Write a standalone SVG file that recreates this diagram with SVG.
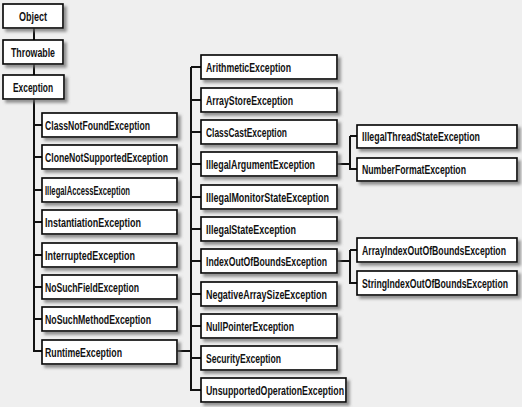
<svg xmlns="http://www.w3.org/2000/svg" width="522" height="407" viewBox="0 0 522 407">
<defs>
<filter id="sh" x="-10%" y="-30%" width="130%" height="180%">
<feDropShadow dx="3" dy="3" stdDeviation="1.6" flood-color="#666" flood-opacity="0.7"/>
</filter>
</defs>
<style>
.b{fill:#fff;stroke:#000;stroke-width:1.6;filter:url(#sh)}
.t{font-family:"Liberation Sans",Arial,sans-serif;font-weight:bold;font-size:12px;fill:#111}
.c{fill:none;stroke:#111;stroke-width:2}
</style>
<rect width="522" height="407" fill="#efefef"/>
<g id="connectors">
<path class="c" d="M34 28V40M34 64V75M34 99V351H42M34 125H42M34 157H42M34 190H42M34 222H42M34 255H42M34 287H42M34 319H42"/>
<path class="c" d="M177 351H191M191 67V390H201M191 67H201M191 100H201M191 132H201M191 164H201M191 197H201M191 229H201M191 261H201M191 294H201M191 326H201M191 358H201"/>
<path class="c" d="M337 164H350M350 136V169H357M350 136H357M337 261H350M350 250V283H357M350 250H357"/>
</g>
<g id="n-object"><rect class="b" x="3" y="4" width="60" height="24"/><text class="t" x="33" y="20.5" text-anchor="middle" textLength="28" lengthAdjust="spacingAndGlyphs">Object</text></g>
<g id="n-throwable"><rect class="b" x="3" y="40" width="60" height="24"/><text class="t" x="33" y="56.5" text-anchor="middle" textLength="44" lengthAdjust="spacingAndGlyphs">Throwable</text></g>
<g id="n-exception"><rect class="b" x="3" y="75" width="61" height="24"/><text class="t" x="33" y="91.5" text-anchor="middle" textLength="40" lengthAdjust="spacingAndGlyphs">Exception</text></g>

<g id="n-classnotfound"><rect class="b" x="42" y="113" width="135" height="24"/><text class="t" x="45" y="129.5" textLength="105" lengthAdjust="spacingAndGlyphs">ClassNotFoundException</text></g>
<g id="n-clonenotsupported"><rect class="b" x="42" y="145" width="135" height="24"/><text class="t" x="45" y="161.5" textLength="123" lengthAdjust="spacingAndGlyphs">CloneNotSupportedException</text></g>
<g id="n-illegalaccess"><rect class="b" x="42" y="178" width="135" height="24"/><text class="t" x="45" y="194.5" textLength="85" lengthAdjust="spacingAndGlyphs">IllegalAccessException</text></g>
<g id="n-instantiation"><rect class="b" x="42" y="210" width="135" height="24"/><text class="t" x="45" y="226.5" textLength="96" lengthAdjust="spacingAndGlyphs">InstantiationException</text></g>
<g id="n-interrupted"><rect class="b" x="42" y="243" width="135" height="24"/><text class="t" x="45" y="259.5" textLength="90" lengthAdjust="spacingAndGlyphs">InterruptedException</text></g>
<g id="n-nosuchfield"><rect class="b" x="42" y="275" width="135" height="24"/><text class="t" x="45" y="291.5" textLength="94" lengthAdjust="spacingAndGlyphs">NoSuchFieldException</text></g>
<g id="n-nosuchmethod"><rect class="b" x="42" y="307" width="135" height="24"/><text class="t" x="45" y="323.5" textLength="106" lengthAdjust="spacingAndGlyphs">NoSuchMethodException</text></g>
<g id="n-runtime"><rect class="b" x="42" y="340" width="135" height="24"/><text class="t" x="45" y="356.5" textLength="77" lengthAdjust="spacingAndGlyphs">RuntimeException</text></g>

<g id="n-arithmetic"><rect class="b" x="201" y="55" width="136" height="24"/><text class="t" x="206" y="71.5" textLength="85" lengthAdjust="spacingAndGlyphs">ArithmeticException</text></g>
<g id="n-arraystore"><rect class="b" x="201" y="88" width="136" height="24"/><text class="t" x="206" y="104.5" textLength="87" lengthAdjust="spacingAndGlyphs">ArrayStoreException</text></g>
<g id="n-classcast"><rect class="b" x="201" y="120" width="136" height="24"/><text class="t" x="206" y="136.5" textLength="81" lengthAdjust="spacingAndGlyphs">ClassCastException</text></g>
<g id="n-illegalargument"><rect class="b" x="201" y="152" width="136" height="24"/><text class="t" x="206" y="168.5" textLength="109" lengthAdjust="spacingAndGlyphs">IllegalArgumentException</text></g>
<g id="n-illegalmonitorstate"><rect class="b" x="201" y="185" width="136" height="24"/><text class="t" x="206" y="201.5" textLength="123" lengthAdjust="spacingAndGlyphs">IllegalMonitorStateException</text></g>
<g id="n-illegalstate"><rect class="b" x="201" y="217" width="136" height="24"/><text class="t" x="206" y="233.5" textLength="90" lengthAdjust="spacingAndGlyphs">IllegalStateException</text></g>
<g id="n-indexoutofbounds"><rect class="b" x="201" y="249" width="136" height="24"/><text class="t" x="206" y="265.5" textLength="121" lengthAdjust="spacingAndGlyphs">IndexOutOfBoundsException</text></g>
<g id="n-negativearraysize"><rect class="b" x="201" y="282" width="136" height="24"/><text class="t" x="206" y="298.5" textLength="121" lengthAdjust="spacingAndGlyphs">NegativeArraySizeException</text></g>
<g id="n-nullpointer"><rect class="b" x="201" y="314" width="136" height="24"/><text class="t" x="206" y="330.5" textLength="88" lengthAdjust="spacingAndGlyphs">NullPointerException</text></g>
<g id="n-security"><rect class="b" x="201" y="346" width="136" height="24"/><text class="t" x="206" y="362.5" textLength="75" lengthAdjust="spacingAndGlyphs">SecurityException</text></g>
<g id="n-unsupportedoperation"><rect class="b" x="201" y="378" width="145" height="24"/><text class="t" x="206" y="394.5" textLength="138" lengthAdjust="spacingAndGlyphs">UnsupportedOperationException</text></g>

<g id="n-illegalthreadstate"><rect class="b" x="357" y="125" width="160" height="23"/><text class="t" x="362" y="140.5" textLength="118" lengthAdjust="spacingAndGlyphs">IllegalThreadStateException</text></g>
<g id="n-numberformat"><rect class="b" x="357" y="158" width="160" height="23"/><text class="t" x="362" y="173.5" textLength="104" lengthAdjust="spacingAndGlyphs">NumberFormatException</text></g>
<g id="n-arrayindexoutofbounds"><rect class="b" x="357" y="238" width="160" height="24"/><text class="t" transform="translate(362 254.5) scale(0.7 1)" x="0" y="0" textLength="205.7" lengthAdjust="spacingAndGlyphs">ArrayIndexOutOfBoundsException</text></g>
<g id="n-stringindexoutofbounds"><rect class="b" x="357" y="271" width="160" height="24"/><text class="t" transform="translate(362 287.5) scale(0.7 1)" x="0" y="0" textLength="208.6" lengthAdjust="spacingAndGlyphs">StringIndexOutOfBoundsException</text></g>
</svg>
